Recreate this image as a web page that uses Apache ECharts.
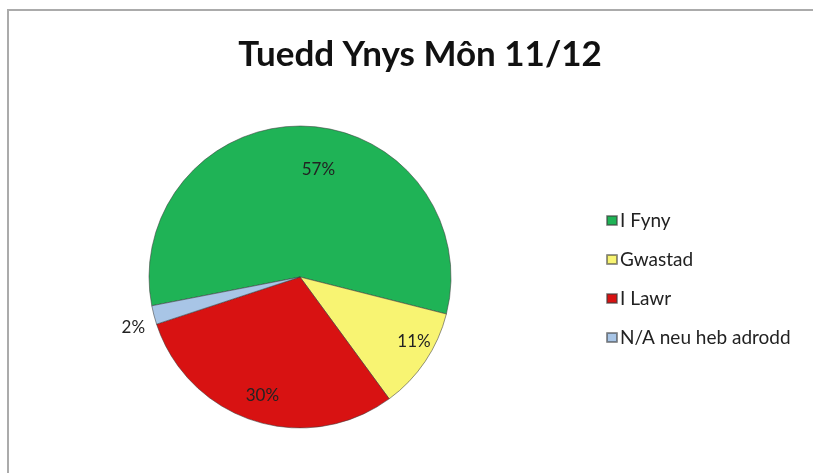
<!DOCTYPE html>
<html>
<head>
<meta charset="utf-8">
<script src="https://cdn.jsdelivr.net/npm/echarts@6/dist/echarts.min.js"></script>
<style>
  * { margin: 0; padding: 0; }
  html, body { background: #fff; }
</style>
</head>
<body>
<div id="mychart" style="width: 813px; height: 473px;"></div>
<script>
const catName = ['I Fyny', 'Gwastad', 'I Lawr', 'N/A neu heb adrodd'];
const catValue = [57, 11, 30, 2];
const catColor = ['#1fb356', '#f8f472', '#d81212', '#a8c5e6'];
// small nudges so labels sit where the original's "best fit" put them
const labelNudge = [[15, 15], [12, -4], [0, 1], [3, 11]];

var chart = echarts.init(document.getElementById('mychart'));

const pieData = catName.map((n, i) => ({
  name: n,
  value: catValue[i],
  itemStyle: { color: catColor[i] }
}));

const labelData = catName.map((n, i) => ({
  name: n,
  value: catValue[i],
  label: i === 3 ? { position: 'outside' } : {}
}));

const option = {
  animation: false,
  title: {
    text: 'Tuedd Ynys Môn 11/12',
    left: 415,
    textAlign: 'center',
    top: 32,
    textStyle: {
      fontFamily: 'Lato',
      fontWeight: 'bold',
      fontSize: 35,
      color: '#111'
    }
  },
  legend: {
    orient: 'vertical',
    left: 601,
    top: 206,
    itemWidth: 10,
    itemHeight: 9,
    itemGap: 20,
    icon: 'rect',
    data: catName,
    textStyle: { fontFamily: 'Lato', fontSize: 19, color: '#222', padding: [0, 0, 0, -2] }
  },
  graphic: [
    {
      type: 'rect',
      shape: { x: 8, y: 10, width: 900, height: 600 },
      style: { fill: 'none', stroke: '#ababab', lineWidth: 2 },
      z: -1
    }
  ],
  series: [
    {
      type: 'pie',
      center: [300, 277],
      radius: [0, 151],
      startAngle: 191,
      clockwise: true,
      label: { show: false },
      labelLine: { show: false },
      itemStyle: { borderColor: 'rgba(60,60,60,0.55)', borderWidth: 1 },
      emphasis: { disabled: true },
      data: pieData
    },
    {
      type: 'pie',
      silent: true,
      center: [300, 277],
      radius: [90, 150],
      startAngle: 191,
      clockwise: true,
      itemStyle: { color: 'transparent' },
      label: {
        show: true,
        position: 'inside',
        formatter: '{d}%',
        fontFamily: 'Lato',
        fontSize: 17,
        color: '#222'
      },
      labelLine: { show: false, length: 8, length2: 0 },
      labelLayout: function (p) {
        const d = labelNudge[p.dataIndex];
        return { dx: d[0], dy: d[1] };
      },
      data: labelData
    }
  ]
};
chart.setOption(option);
</script>
</body>
</html>
